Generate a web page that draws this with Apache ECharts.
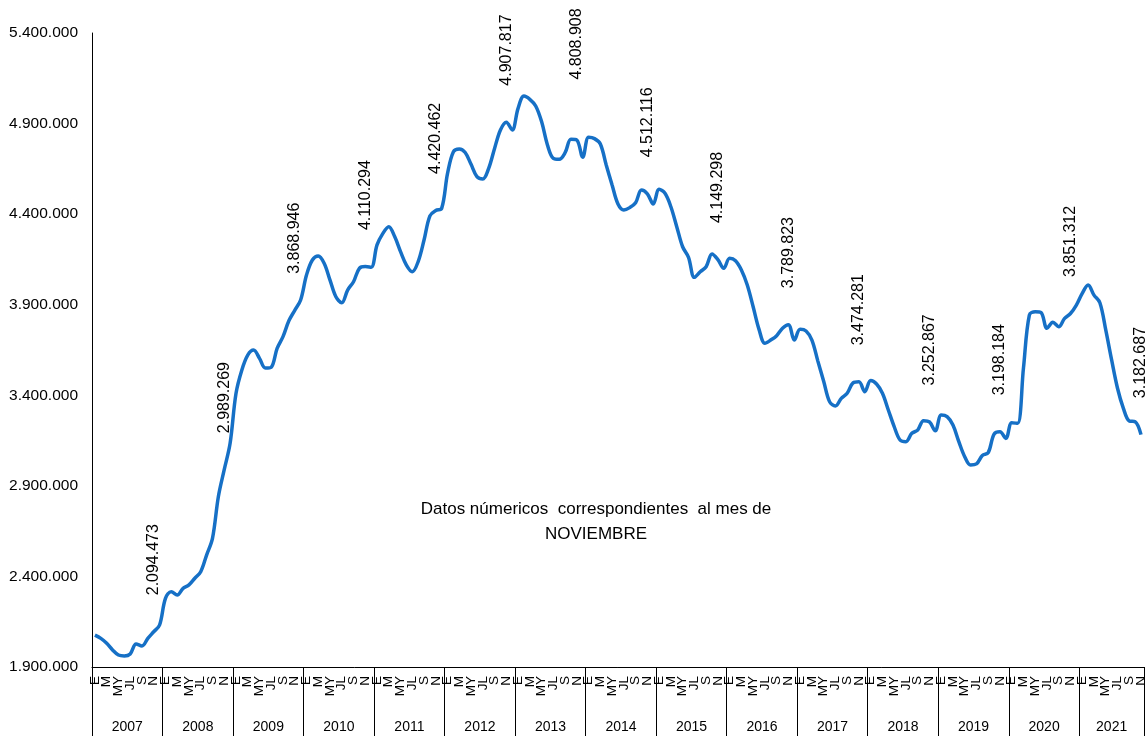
<!DOCTYPE html>
<html>
<head>
<meta charset="utf-8">
<title>Datos noviembre 2007-2021</title>
<script src="https://cdn.jsdelivr.net/npm/echarts@6/dist/echarts.min.js"></script>
<style>
  html, body { margin: 0; padding: 0; background: #fff; }
  #chart { width: 1148px; height: 736px; }
</style>
</head>
<body>
<div id="chart"></div>
<script>
// años y etiquetas de meses (solo se rotulan los meses impares)
const years = [2007, 2008, 2009, 2010, 2011, 2012, 2013, 2014, 2015, 2016, 2017, 2018, 2019, 2020, 2021];
const monthNames = ['Ene', 'Feb', 'Mar', 'Abr', 'May', 'Jun', 'Jul', 'Ago', 'Sep', 'Oct', 'Nov', 'Dic'];
const monthTicks = ['E', '', 'M', '', 'MY', '', 'JL', '', 'S', '', 'N', ''];

// eje Y
const yMin = 1900000;
const yMax = 5400000;
const yStep = 500000;

// valores mensuales por año
const v2007 = [2076000, 2058000, 2031000, 1994000, 1966000, 1961000, 1972000, 2027000, 2016000, 2058000, 2094473, 2132000];
const v2008 = [2279000, 2316000, 2297000, 2334000, 2353000, 2390000, 2426000, 2518000, 2610000, 2840000, 2989269, 3135000];
const v2009 = [3410000, 3540000, 3622000, 3650000, 3604000, 3550000, 3555000, 3659000, 3724000, 3811000, 3868946, 3926000];
const v2010 = [4064000, 4147000, 4169000, 4129000, 4036000, 3944000, 3911000, 3981000, 4027000, 4101000, 4110294, 4107000];
const v2011 = [4230000, 4294000, 4331000, 4276000, 4193000, 4119000, 4082000, 4138000, 4257000, 4391000, 4420462, 4432000];
const v2012 = [4625000, 4745000, 4760000, 4740000, 4675000, 4607000, 4594000, 4653000, 4763000, 4865000, 4907817, 4865000];
const v2013 = [4984000, 5052000, 5034000, 4997000, 4911000, 4782000, 4708000, 4703000, 4739000, 4813000, 4808908, 4714000];
const v2014 = [4824000, 4817000, 4787000, 4671000, 4561000, 4456000, 4423000, 4436000, 4463000, 4533000, 4512116, 4456000];
const v2015 = [4537000, 4515000, 4441000, 4331000, 4220000, 4162000, 4051000, 4082000, 4110000, 4180000, 4149298, 4101000];
const v2016 = [4156000, 4143000, 4092000, 4009000, 3889000, 3764000, 3687000, 3705000, 3729000, 3770000, 3789823, 3705000];
const v2017 = [3764000, 3755000, 3705000, 3590000, 3478000, 3365000, 3341000, 3383000, 3411000, 3468000, 3474281, 3420000];
const v2018 = [3481000, 3462000, 3411000, 3319000, 3227000, 3153000, 3144000, 3190000, 3208000, 3260000, 3252867, 3204000];
const v2019 = [3291000, 3282000, 3236000, 3144000, 3061000, 3015000, 3021000, 3068000, 3083000, 3186000, 3198184, 3162000];
const v2020 = [3249000, 3245000, 3551000, 3843000, 3861000, 3856000, 3770000, 3803000, 3779000, 3825000, 3851312, 3898000];
const v2021 = [3963000, 4009000, 3953000, 3911000, 3761000, 3595000, 3439000, 3328000, 3258000, 3254000, 3182687];

const valuesByYear = [v2007, v2008, v2009, v2010, v2011, v2012, v2013, v2014, v2015, v2016, v2017, v2018, v2019, v2020, v2021];

const NOV = 10;
const fontFamily = '"Liberation Sans", Arial, sans-serif';

function fmt(n) {
  return Math.round(n).toString().replace(/\B(?=(\d{3})+(?!\d))/g, '.');
}

let categories = [];
let seriesData = [];
years.forEach(function (year, k) {
  valuesByYear[k].forEach(function (v, m) {
    categories.push(monthNames[m] + ' ' + year);
    if (m === NOV) {
      // el rótulo de 2013 está más arriba en el original
      seriesData.push({ value: v, label: { show: true, distance: year === 2013 ? 60 : 36 } });
    } else {
      seriesData.push(v);
    }
  });
});

let myChart = echarts.init(document.getElementById('chart'));
const option = {
  animation: false,
  textStyle: { fontFamily: fontFamily },
  title: {
    text: 'Datos númericos  correspondientes  al mes de\nNOVIEMBRE',
    left: 591,
    top: 492,
    textAlign: 'center',
    textStyle: {
      fontFamily: fontFamily,
      fontSize: 17,
      fontWeight: 'normal',
      color: '#000',
      lineHeight: 25
    }
  },
  grid: { left: 92, right: 0, top: 33, bottom: 69, containLabel: false },
  xAxis: [
    {
      type: 'category',
      data: categories,
      boundaryGap: true,
      axisLine: { onZero: false, lineStyle: { color: '#000', width: 1 } },
      // separadores de año
      axisTick: {
        show: true,
        interval: function (i) { return i % 12 === 0; },
        length: 69,
        lineStyle: { color: '#000', width: 1 }
      },
      axisLabel: {
        interval: 0,
        rotate: 90,
        margin: 9,
        fontSize: 13.5,
        color: '#000',
        formatter: function (v, i) { return monthTicks[i % 12]; }
      },
      splitLine: { show: false }
    },
    {
      type: 'category',
      data: categories,
      boundaryGap: true,
      position: 'bottom',
      axisLine: { show: false },
      axisTick: { show: false },
      splitLine: { show: false },
      axisLabel: {
        interval: function (i) { return i % 12 === 5; },
        margin: 53,
        fontSize: 14,
        color: '#000',
        formatter: function (v, i) {
          let k = Math.floor(i / 12);
          // años completos: centrar entre junio y julio
          return (valuesByYear[k].length === 12 ? '{f|' : '{p|') + years[k] + '}';
        },
        rich: {
          f: { fontSize: 14, color: '#000', fontFamily: fontFamily, padding: [0, 0, 0, 6] },
          p: { fontSize: 14, color: '#000', fontFamily: fontFamily }
        }
      }
    }
  ],
  yAxis: {
    type: 'value',
    min: yMin,
    max: yMax,
    interval: yStep,
    axisLine: { show: true, lineStyle: { color: '#000', width: 1 } },
    axisTick: { show: false },
    splitLine: { show: false },
    axisLabel: {
      margin: 14,
      fontSize: 15.5,
      color: '#000',
      formatter: function (v) { return fmt(v); }
    }
  },
  series: [
    {
      type: 'line',
      data: seriesData,
      smooth: 0.35,
      symbol: 'circle',
      symbolSize: 1,
      showSymbol: true,
      showAllSymbol: true,
      itemStyle: { color: 'rgba(0,0,0,0)' },
      lineStyle: { color: '#1670c6', width: 3.5 },
      emphasis: { disabled: true },
      label: {
        show: false,
        position: 'top',
        rotate: 90,
        align: 'left',
        verticalAlign: 'middle',
        fontSize: 16,
        color: '#000',
        formatter: function (p) { return fmt(p.value); }
      }
    }
  ]
};

myChart.setOption(option);
</script>
</body>
</html>
